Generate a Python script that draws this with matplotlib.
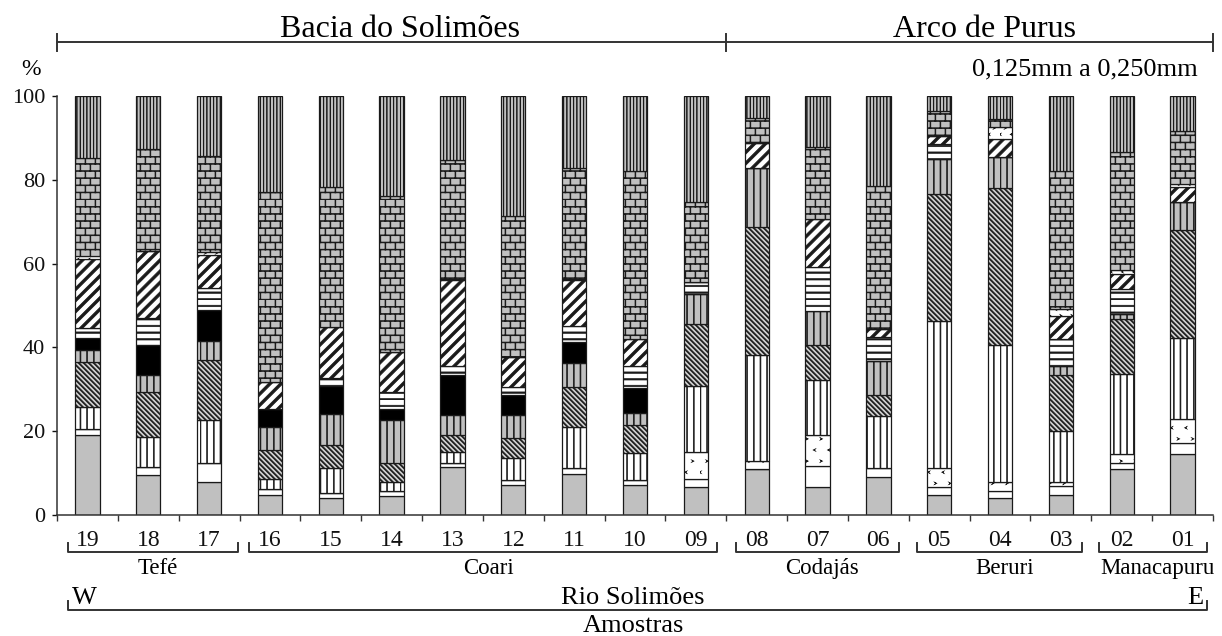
import warnings
warnings.filterwarnings("ignore")
import numpy as np
import matplotlib
matplotlib.use("Agg")
import matplotlib.pyplot as plt
import matplotlib.hatch as mhatch
import matplotlib.transforms as mtransforms
from matplotlib.path import Path

# ---------------- data (percent per component, samples 19 -> 01) ----------------
samples = ["19", "18", "17", "16", "15", "14", "13", "12", "11", "10", "09",
           "08", "07", "06", "05", "04", "03", "02", "01"]
gray_fill = [19.0, 9.5, 7.9, 4.8, 4.0, 4.5, 11.5, 7.1, 9.9, 7.1, 6.7, 10.9, 6.7, 9.0, 4.8, 4.0, 4.8, 10.9, 14.5]
white_fill = [1.5, 2.0, 4.6, 1.3, 1.2, 1.3, 0.8, 1.2, 1.4, 1.2, 2.0, 0.0, 5.0, 2.1, 1.8, 1.8, 2.1, 1.6, 2.7]
dotted = [0, 0, 0, 0, 0, 0, 0, 0, 0, 0, 6.4, 2.0, 7.3, 0, 4.5, 2.1, 1.0, 2.0, 5.8]
vert_lines = [5.3, 7.2, 10.1, 2.6, 5.9, 2.1, 2.8, 5.2, 9.7, 6.5, 15.6, 25.4, 13.3, 12.5, 35.3, 32.6, 12.2, 19.2, 19.3]
back_diag = [10.7, 10.7, 14.3, 6.8, 5.6, 4.4, 3.9, 4.8, 9.6, 6.6, 14.8, 30.5, 8.2, 5.1, 30.3, 37.5, 13.2, 13.1, 25.6]
gray_vert = [2.9, 3.9, 4.6, 5.5, 7.5, 10.3, 4.8, 5.5, 5.7, 3.0, 7.3, 14.0, 8.3, 8.0, 8.3, 7.4, 2.2, 1.2, 6.7]
black_fill = [2.8, 7.3, 7.5, 4.4, 6.5, 2.6, 9.5, 4.8, 5.0, 5.8, 0, 0, 0, 0, 0, 0, 0, 0, 0]
horiz_lines = [2.5, 6.5, 5.2, 0, 2.0, 4.2, 2.2, 2.0, 3.9, 5.3, 2.8, 0, 10.3, 5.8, 3.6, 0, 6.6, 6.0, 0]
fwd_diag = [16.4, 16.0, 7.9, 6.3, 12.1, 9.5, 20.5, 7.1, 10.8, 6.6, 0, 6.1, 11.5, 1.9, 1.9, 4.4, 5.3, 3.5, 3.7]
thin_dotted = [0.6, 0, 0.6, 0, 0, 0, 0.3, 0, 0.3, 0, 0, 0, 0, 0, 0, 2.7, 1.8, 1.0, 0.6]
bricks = [23.4, 24.2, 23.0, 45.3, 33.4, 37.3, 28.5, 33.7, 26.5, 39.9, 19.2, 5.9, 17.3, 34.2, 5.9, 1.9, 32.8, 28.2, 12.8]
top_vert = [14.9, 12.7, 14.3, 23.0, 21.8, 23.8, 15.2, 28.6, 17.2, 18.0, 25.2, 5.2, 12.1, 21.4, 3.6, 5.6, 18.0, 13.3, 8.3]

groups = ["Tefé", "Coari", "Codajás", "Beruri", "Manacapuru"]
group_sizes = [3, 8, 3, 3, 2]
basins = ["Bacia do Solimões", "Arco de Purus"]
basin_sizes = [11, 8]

# ---------------- custom hatch patterns ----------------
def _rect(x0, y0, x1, y1):
    return [(x0, y0), (x1, y0), (x1, y1), (x0, y1)]

def p_vertical(n, t):
    return [_rect(k / n, -0.1, k / n + t, 1.1) for k in range(n)]

def p_horizontal(n, t):
    return [_rect(-0.1, k / n, 1.1, k / n + t) for k in range(n)]

def p_ne(n, w):
    out = []
    for k in range(-n - 1, n + 1):
        c = k / n
        out.append([(-0.1, c - 0.1), (1.1, c + 1.1), (1.1, c + 1.1 + w), (-0.1, c - 0.1 + w)])
    return out

def p_se(n, w):
    out = []
    for k in range(0, 2 * n + 2):
        c = k / n
        out.append([(-0.1, c + 0.1), (1.1, c - 1.1), (1.1, c - 1.1 + w), (-0.1, c + 0.1 + w)])
    return out

def p_bricks(rows, cols, t):
    out = p_horizontal(rows, t)
    for k in range(rows):
        off = 0.5 * (k % 2)
        for j in range(cols + 1):
            x = (j + off) / cols
            out.append(_rect(x, k / rows, x + t, (k + 1) / rows))
    return out

def p_marks(rows, cols, s):
    out = []
    for k in range(rows):
        off = 0.5 * (k % 2)
        for j in range(cols):
            x = (j + off) / cols
            y = (k + 0.5) / rows
            if k % 2:
                out.append([(x - s, y + s), (x + s, y), (x - s, y - s), (x, y)])
            else:
                out.append([(x + s, y + s), (x - s, y), (x + s, y - s), (x, y)])
    return out

class _PolyHatch:
    char = None
    builder = None
    def __init__(self, hatch, density):
        self.polys = type(self).builder() if (hatch and self.char in hatch) else []
        self.num_vertices = sum(len(p) + 1 for p in self.polys)
    def set_vertices_and_codes(self, vertices, codes):
        i = 0
        for p in self.polys:
            n = len(p)
            vertices[i:i + n] = p
            vertices[i + n] = p[0]
            codes[i] = Path.MOVETO
            codes[i + 1:i + n] = Path.LINETO
            codes[i + n] = Path.CLOSEPOLY
            i += n + 1

def _mk(ch, fn):
    return type("H" + str(ord(ch)), (_PolyHatch,), {"char": ch, "builder": staticmethod(fn)})

mhatch._hatch_types = [
    _mk("|", lambda: p_vertical(15, 0.009)),
    _mk("\\", lambda: p_se(20, 0.015)),
    _mk("-", lambda: p_horizontal(15, 0.014)),
    _mk("/", lambda: p_ne(9, 0.038)),
    _mk("+", lambda: p_bricks(14, 10, 0.008)),
    _mk("x", lambda: p_vertical(30, 0.005)),
    _mk(".", lambda: p_marks(9, 7, 0.011)),
    _mk("o", lambda: p_marks(16, 9, 0.009)),
]

plt.rcParams["hatch.linewidth"] = 0.5
plt.rcParams["font.family"] = ["Liberation Serif", "DejaVu Serif"]

W, H = 1222, 636
fig = plt.figure(figsize=(W / 100, H / 100), dpi=100)
ax_left, ax_right, ax_top, ax_bot = 57, 1213, 96, 515
ax = fig.add_axes([ax_left / W, 1 - ax_bot / H, (ax_right - ax_left) / W, (ax_bot - ax_top) / H])

GRAY = "#c0c0c0"
layers = [
    (gray_fill, GRAY, None),
    (white_fill, "white", None),
    (dotted, "white", "."),
    (vert_lines, "white", "|"),
    (back_diag, "#d4d4d4", "\\"),
    (gray_vert, GRAY, "|"),
    (black_fill, "black", None),
    (horiz_lines, "white", "-"),
    (fwd_diag, "white", "/"),
    (thin_dotted, "white", "o"),
    (bricks, GRAY, "+"),
    (top_vert, GRAY, "x"),
]

x = np.arange(len(samples))
bottom = np.zeros(len(samples))
for vals, fc, hatch in layers:
    v = np.array(vals, dtype=float)
    ax.bar(x, v, width=0.4, bottom=bottom, color=fc, edgecolor="#1a1a1a",
           linewidth=0.9, hatch=hatch)
    bottom += v

ax.set_xlim(-0.5, len(samples) - 0.5)
ax.set_ylim(0, 100)
for s in ["top", "right"]:
    ax.spines[s].set_visible(False)
for s in ["left", "bottom"]:
    ax.spines[s].set_linewidth(1.1)
    ax.spines[s].set_color("#333333")

ax.set_yticks([0, 20, 40, 60, 80, 100])
ax.tick_params(axis="y", direction="out", length=3.5, width=1.0, pad=5, labelsize=16, colors="#111111")
ax.set_xticks(x)
ax.set_xticklabels(samples)
ax.tick_params(axis="x", which="major", length=0, pad=11, labelsize=17, colors="#111111")
ax.set_xticks(np.arange(-0.5, len(samples), 1.0), minor=True)
ax.tick_params(axis="x", which="minor", direction="out", length=4, width=1.0, color="#333333")

def fy(py):
    return 1 - py / H

blend = mtransforms.blended_transform_factory(ax.transData, fig.transFigure)
lc = "#333333"

def line(xs, ys):
    fig.add_artist(plt.Line2D(xs, [fy(v) for v in ys], transform=blend, color=lc, lw=1.4))

# top basin bar
edges = np.concatenate([[-0.5], np.cumsum(basin_sizes) - 0.5])
line([edges[0], edges[-1]], [42, 42])
for e in edges:
    line([e, e], [34, 51])
basin_off = [0.13, 0.25]
for i, name in enumerate(basins):
    cx = (edges[i] + edges[i + 1]) / 2 + basin_off[i]
    fig.text(cx, fy(37), name, transform=blend, ha="center", va="baseline", fontsize=23)

fig.text(1198 / W, fy(75), "0,125mm a 0,250mm", ha="right", va="baseline", fontsize=19)
fig.text(31 / W, fy(75), "%", ha="center", va="baseline", fontsize=17)

# group brackets
gedges = np.concatenate([[-0.5], np.cumsum(group_sizes) - 0.5])
starts = [0.18, 0.16, 0.16, 0.14, 0.12]
ends = [0.03, 0.15, 0.16, 0.15, 0.1]
for i, name in enumerate(groups):
    a = gedges[i] + starts[i]
    b = gedges[i + 1] - ends[i]
    line([a, a, b, b], [543, 552, 552, 543])
    fig.text((a + b) / 2 + 0.08, fy(574), name, transform=blend, ha="center", va="baseline", fontsize=16.5)

# W - E bracket
a, b = -0.5 + 0.18, len(samples) - 0.5 - 0.1
line([a, a, b, b], [601, 610, 610, 601])
fig.text(a + 0.06, fy(604), "W", transform=blend, ha="left", va="baseline", fontsize=19)
fig.text(b - 0.06, fy(604), "E", transform=blend, ha="right", va="baseline", fontsize=19)
fig.text(633 / W, fy(604), "Rio Solimões", ha="center", va="baseline", fontsize=19)
fig.text(633 / W, fy(632), "Amostras", ha="center", va="baseline", fontsize=19)

fig.savefig("out.png", dpi=100)
